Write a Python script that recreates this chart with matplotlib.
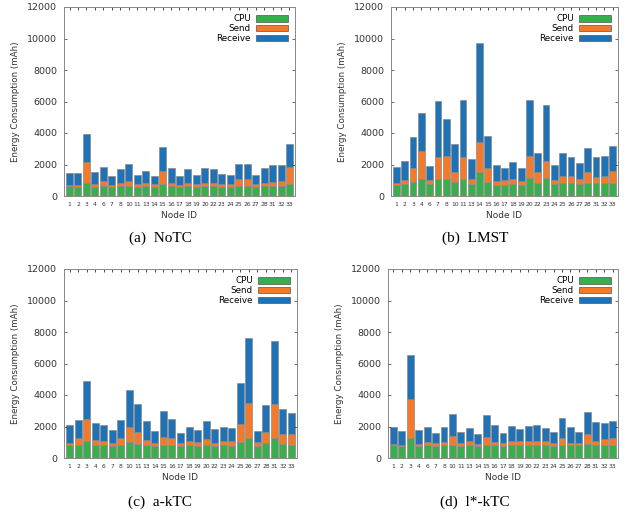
import numpy as np
import matplotlib
matplotlib.use('Agg')
import matplotlib.pyplot as plt
from matplotlib.patches import Patch

nodes = ['1', '2', '3', '4', '6', '7', '8', '10', '11', '13', '14', '15', '16', '17',
         '18', '19', '20', '22', '23', '24', '25', '26', '27', '28', '31', '32', '33']

# (a) NoTC
notc_cpu = [620, 600, 800, 600, 650, 600, 650, 650, 600, 650, 600, 750, 650, 600,
            650, 600, 650, 650, 600, 600, 650, 650, 600, 650, 650, 650, 750]
notc_send = [60, 100, 1350, 150, 300, 100, 200, 300, 150, 150, 150, 850, 200, 100,
             200, 150, 200, 200, 150, 150, 400, 400, 150, 200, 250, 300, 1100]
notc_recv = [770, 750, 1800, 750, 900, 550, 850, 1100, 600, 800, 550, 1500, 950, 550,
             850, 600, 900, 850, 650, 600, 950, 950, 600, 900, 1050, 1000, 1450]

# (b) LMST
lmst_cpu = [700, 750, 900, 1050, 750, 1100, 1050, 900, 1100, 750, 1500, 900, 700, 700,
            750, 700, 1150, 850, 1150, 750, 800, 800, 750, 850, 800, 800, 850]
lmst_send = [100, 250, 850, 1800, 250, 1400, 1500, 600, 1400, 300, 1950, 900, 250, 300,
             350, 250, 1400, 650, 1100, 250, 450, 500, 350, 700, 400, 500, 750]
lmst_recv = [1050, 1200, 2000, 2400, 900, 3550, 2350, 1800, 3600, 1300, 6250, 2000, 1000, 800,
             1050, 800, 3550, 1250, 3550, 1000, 1500, 1200, 1000, 1500, 1300, 1250, 1600]

# (c) a-kTC
aktc_cpu = [800, 800, 1050, 800, 800, 750, 800, 1000, 900, 800, 750, 850, 800, 750,
            800, 750, 800, 750, 800, 750, 1000, 1300, 750, 950, 1250, 900, 850]
aktc_send = [150, 450, 1450, 350, 300, 200, 450, 950, 750, 350, 200, 500, 450, 200,
             250, 250, 400, 200, 300, 300, 1150, 2200, 250, 700, 2150, 600, 650]
aktc_recv = [1150, 1150, 2400, 1050, 1000, 800, 1150, 2350, 1800, 1200, 750, 1650, 1200, 650,
             900, 750, 1150, 900, 850, 850, 2600, 4150, 700, 1700, 4000, 1600, 1350]

# (d) l*-kTC
lktc_cpu = [800, 750, 1250, 750, 800, 750, 800, 850, 750, 800, 750, 850, 800, 750,
            800, 800, 800, 800, 800, 750, 850, 800, 800, 900, 800, 800, 850]
lktc_send = [100, 100, 2500, 150, 200, 200, 200, 550, 200, 250, 150, 500, 200, 200,
             300, 300, 250, 250, 250, 200, 450, 150, 150, 600, 300, 400, 400]
lktc_recv = [1100, 850, 2800, 850, 950, 650, 950, 1400, 700, 850, 600, 1400, 1100, 650,
             950, 750, 1000, 1050, 850, 700, 1250, 1000, 700, 1450, 1200, 1050, 1100]

panels = [
    ('(a)  NoTC', notc_cpu, notc_send, notc_recv),
    ('(b)  LMST', lmst_cpu, lmst_send, lmst_recv),
    ('(c)  a-kTC', aktc_cpu, aktc_send, aktc_recv),
    ('(d)  l*-kTC', lktc_cpu, lktc_send, lktc_recv),
]

c_cpu = '#3aad4c'
c_send = '#f27a2a'
c_recv = '#1f72b5'
edge = '#8a8a8a'

# axes boxes in pixels: left, top, right, bottom
boxes = [(64, 7, 295, 196), (391, 7, 618, 196), (64, 269, 297, 458), (388, 269, 618, 458)]
caption_pos = [(160, 238), (475, 238), (160, 502), (475, 502)]

W, H = 628, 520
fig = plt.figure(figsize=(6.28, 5.2), dpi=100)

for (title, cpu, send, recv), (l, t, r, b), (cx, cy) in zip(panels, boxes, caption_pos):
    ax = fig.add_axes([l / W, 1 - b / H, (r - l) / W, (b - t) / H])
    x = np.arange(len(nodes))
    cpu = np.array(cpu)
    send = np.array(send)
    recv = np.array(recv)
    ax.bar(x, cpu, 0.82, color=c_cpu, edgecolor=edge, linewidth=0.5)
    ax.bar(x, send, 0.82, bottom=cpu, color=c_send, edgecolor=edge, linewidth=0.5)
    ax.bar(x, recv, 0.82, bottom=cpu + send, color=c_recv, edgecolor=edge, linewidth=0.5)

    ax.set_xlim(-0.65, len(nodes) - 0.35)
    ax.set_ylim(0, 12000)
    ax.set_yticks(range(0, 12001, 2000))
    ax.set_xticks(x)
    ax.set_xticklabels(nodes, fontsize=4.3, color='#333333')
    ax.tick_params(axis='y', labelsize=6.8, colors='#333333', direction='in',
                   right=True, length=2.5, width=0.5, pad=5)
    ax.tick_params(axis='x', direction='in', top=True, bottom=False, length=2, width=0.5, pad=4)
    for s in ax.spines.values():
        s.set_color('#888888')
        s.set_linewidth(0.7)
    ax.set_ylabel('Energy Consumption (mAh)', fontsize=6.3, color='#333333', labelpad=5)
    ax.set_xlabel('Node ID', fontsize=6.5, color='#333333', labelpad=3)

    handles = [Patch(facecolor=c_cpu, edgecolor='#555555', linewidth=0.5),
               Patch(facecolor=c_send, edgecolor='#555555', linewidth=0.5),
               Patch(facecolor=c_recv, edgecolor='#555555', linewidth=0.5)]
    ax.legend(handles, ['CPU', 'Send', 'Receive'], loc='upper right', fontsize=6.3,
              frameon=False, markerfirst=False, handlelength=3.6, handleheight=0.75,
              labelspacing=0.1, borderaxespad=0.45, handletextpad=0.6)

    fig.text(cx / W, 1 - cy / H, title, fontsize=11, family='Liberation Serif',
             ha='center', va='center')

fig.savefig('out.png', dpi=100)
